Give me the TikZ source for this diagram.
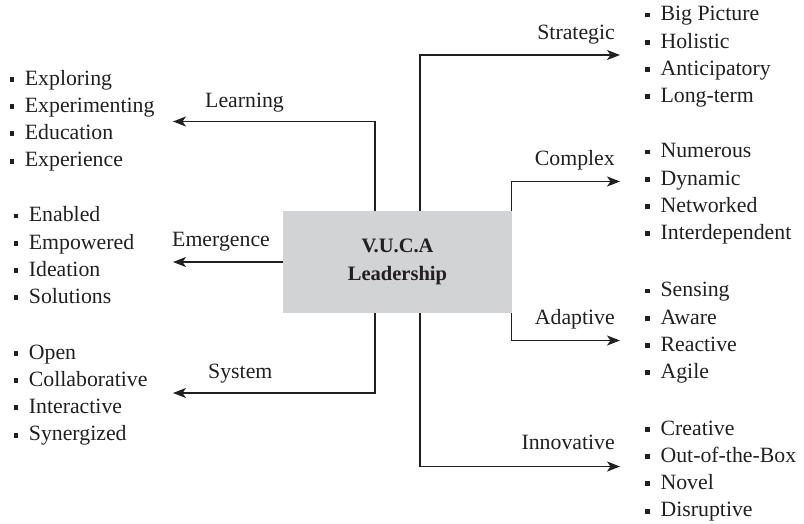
\documentclass[tikz,border=0pt]{standalone}
\usepackage{fontspec}
\setmainfont{Liberation Serif}
\usetikzlibrary{arrows.meta}
\definecolor{ink}{HTML}{231F20}
\definecolor{hubgray}{HTML}{D1D3D4}
% small square bullet used in every list
\newcommand\sqb{\rule[3.4pt]{4.8pt}{4.8pt}\hspace{10.6pt}}
\newcommand\itemlist[1]{\begin{tabular}[t]{@{}l@{}}#1\end{tabular}}
\begin{document}
\begin{tikzpicture}[x=1pt,y=-1pt,
  every node/.style={text=ink},
  txt/.style={font=\fontsize{21.8}{27.3}\selectfont, inner sep=0pt},
  listnode/.style={txt, anchor=base west},
  rlabel/.style={txt, anchor=base east},
  llabel/.style={txt, anchor=base west},
  arr/.style={draw=ink, line width=1.3pt,
    -{Stealth[length=13pt,width=10pt,inset=3.5pt]}}]
\useasboundingbox (0,0) rectangle (804,523);

% central box
\node[fill=hubgray, minimum width=229pt, minimum height=102pt, inner sep=0pt,
      align=center, font=\fontsize{20.5}{27.4}\selectfont\bfseries]
  (hub) at (397.5,262) {V.U.C.A\\Leadership};

% arrow tips
\coordinate (tStr) at (620,55);
\coordinate (tCom) at (620,181.5);
\coordinate (tAda) at (620,340.5);
\coordinate (tInn) at (620,466.5);
\coordinate (tLea) at (173,121.5);
\coordinate (tEme) at (173,262);
\coordinate (tSys) at (173,393);

% connectors
\draw[arr] ([xshift=22.5pt]hub.north) |- (tStr);
\draw[arr] ([xshift=-1pt]hub.north east) |- (tCom);
\draw[arr] ([xshift=-1pt]hub.south east) |- (tAda);
\draw[arr] ([xshift=22.5pt]hub.south) |- (tInn);
\draw[arr] ([xshift=-22.5pt]hub.north) |- (tLea);
\draw[arr] (hub.west) -- (tEme);
\draw[arr] ([xshift=-22.5pt]hub.south) |- (tSys);

% connector labels
\node[rlabel] (lStr) at (615,39) {Strategic};
\node[rlabel] (lCom) at (615,165.5) {Complex};
\node[rlabel] (lAda) at (615,324.5) {Adaptive};
\node[rlabel] (lInn) at (615,449.5) {Innovative};
\node[llabel] (lLea) at (205,107.5) {Learning};
\node[llabel] (lEme) at (172,246.5) {Emergence};
\node[llabel] (lSys) at (208,378) {System};

% lists
\node[listnode] (sStr) at (645,20.7) {\itemlist{\sqb Big Picture\\ \sqb Holistic\\ \sqb Anticipatory\\ \sqb Long-term}};
\node[listnode] (sCom) at (645,157.7) {\itemlist{\sqb Numerous\\ \sqb Dynamic\\ \sqb Networked\\ \sqb Interdependent}};
\node[listnode] (sAda) at (645,296.7) {\itemlist{\sqb Sensing\\ \sqb Aware\\ \sqb Reactive\\ \sqb Agile}};
\node[listnode] (sInn) at (645,435) {\itemlist{\sqb Creative\\ \sqb Out-of-the-Box\\ \sqb Novel\\ \sqb Disruptive}};
\node[listnode] (sLea) at (9.3,85) {\itemlist{\sqb Exploring\\ \sqb Experimenting\\ \sqb Education\\ \sqb Experience}};
\node[listnode] (sEme) at (13.3,221.7) {\itemlist{\sqb Enabled\\ \sqb Empowered\\ \sqb Ideation\\ \sqb Solutions}};
\node[listnode] (sSys) at (13.3,359) {\itemlist{\sqb Open\\ \sqb Collaborative\\ \sqb Interactive\\ \sqb Synergized}};
\end{tikzpicture}
\end{document}
